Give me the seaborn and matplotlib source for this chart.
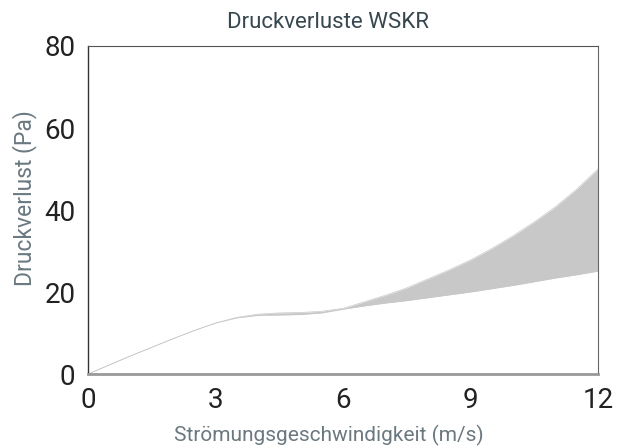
import matplotlib
matplotlib.use("Agg")
import matplotlib.pyplot as plt
import pandas as pd
import seaborn as sns

sns.set_style("white")
plt.rcParams['font.family'] = ['Roboto', 'DejaVu Sans']

# Strömungsgeschwindigkeit (m/s)
speed = [0, 0.5, 1, 1.5, 2, 2.5, 3, 3.5, 4, 4.5, 5, 5.5, 6, 6.5, 7, 7.5, 8, 8.5, 9,
         9.5, 10, 10.5, 11, 11.5, 12]
# Druckverlust untere / obere Grenze (Pa)
loss_low = [0, 2.2, 4.4, 6.5, 8.6, 10.6, 12.4, 13.7, 14.3, 14.4, 14.5, 14.9, 15.8, 16.6,
            17.3, 17.9, 18.6, 19.3, 20.0, 20.8, 21.6, 22.5, 23.4, 24.2, 25.1]
loss_high = [0, 2.2, 4.4, 6.5, 8.6, 10.6, 12.4, 13.8, 14.6, 14.9, 15.0, 15.3, 16.0, 17.6,
             19.2, 21.0, 23.2, 25.4, 27.8, 30.6, 33.7, 37.1, 40.8, 45.1, 50.0]
x_ticks = [0, 3, 6, 9, 12]
y_ticks = [0, 20, 40, 60, 80]

df = pd.DataFrame({"v": speed, "low": loss_low, "high": loss_high})

band = "#c8c8c8"
title_col = "#37474f"
label_col = "#6a7880"

fig = plt.figure(figsize=(6.27, 4.48), dpi=100)
ax = fig.add_axes([88 / 627, 1 - 374 / 448, 510 / 627, 328 / 448])

sns.lineplot(data=df, x="v", y="low", ax=ax, color=band, linewidth=0.5)
sns.lineplot(data=df, x="v", y="high", ax=ax, color=band, linewidth=0.5)
ax.fill_between(df["v"], df["low"], df["high"], color=band, linewidth=0)

ax.set_xlim(0, 12)
ax.set_ylim(0, 80)
ax.set_xticks(x_ticks)
ax.set_yticks(y_ticks)
ax.tick_params(axis="both", which="major", labelsize=20, colors="#222222",
               length=6, width=1, direction="out", pad=3)
ax.tick_params(axis="x", color="#777777")
ax.tick_params(axis="y", color="#333333")

for side, (c, lw) in {"left": ("#333333", 1.0), "top": ("#555555", 0.8),
                      "right": ("#666666", 0.8), "bottom": ("#999999", 2.0)}.items():
    ax.spines[side].set_visible(True)
    ax.spines[side].set_color(c)
    ax.spines[side].set_linewidth(lw)

ax.set_xlabel("Strömungsgeschwindigkeit (m/s)", fontsize=15, color=label_col)
ax.set_ylabel("Druckverlust (Pa)", fontsize=16.5, color=label_col)
ax.xaxis.set_label_coords((329 - 88) / 510, -(425 - 374) / 328)
ax.yaxis.set_label_coords(-(88 - 37) / 510, (374 - 198) / 328)

fig.text(328 / 627, 1 - 22 / 448, "Druckverluste WSKR", ha="center", va="center",
         fontsize=16, color=title_col)

fig.savefig("out.png", dpi=100)
